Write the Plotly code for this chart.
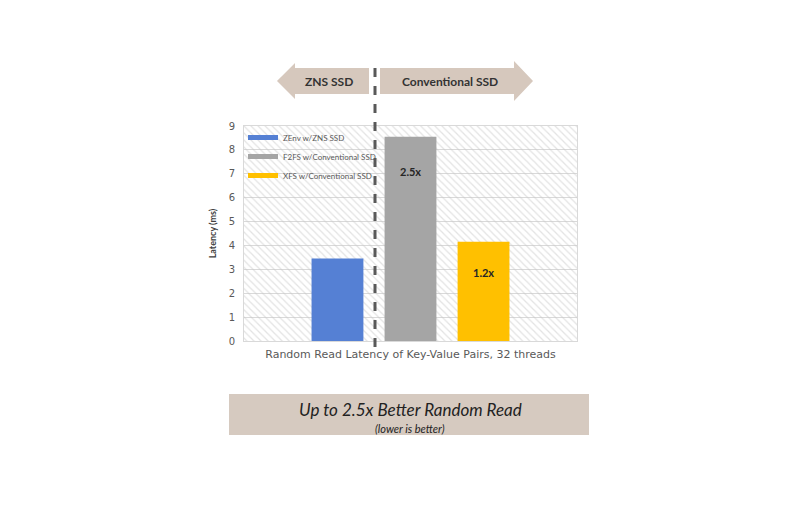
import plotly.graph_objects as go

# chart values
systems = ['ZEnv w/ZNS SSD', 'F2FS w/Conventional SSD', 'XFS w/Conventional SSD']
latency_ms = [3.45, 8.55, 4.15]
bar_colors = ['#5580d4', '#a5a5a5', '#ffc000']
speedups = ['2.5x', '1.2x']
speedup_systems = ['F2FS w/Conventional SSD', 'XFS w/Conventional SSD']
speedup_y = [7.1, 2.85]
y_ticks = [0, 1, 2, 3, 4, 5, 6, 7, 8, 9]

W, H = 799, 511
L, R, T, B = 244, 577, 126, 341   # plot area in pixels


def px(x):
    return (x - L) / (R - L)


def py(y):
    return (B - y) / (B - T)


def path(points):
    return 'M' + ' L'.join('%.4f,%.4f' % (px(a), py(b)) for a, b in points) + ' Z'


fig = go.Figure()

# hatched background of the plot area
fig.add_trace(go.Bar(x=[0.5], y=[max(y_ticks)], width=[1], xaxis='x', yaxis='y',
                     marker=dict(color='rgba(0,0,0,0)', line=dict(width=0),
                                 pattern=dict(shape='\\', fgcolor='#c8c8c8', bgcolor='rgba(0,0,0,0)',
                                              size=5, solidity=0.25)),
                     showlegend=False, hoverinfo='skip'))

for name, val, col in zip(systems, latency_ms, bar_colors):
    fig.add_trace(go.Bar(x=[name], y=[val], xaxis='x2', yaxis='y', width=0.71,
                         marker=dict(color=col, line=dict(width=0)), showlegend=False, name=name))
    # flat legend swatch
    fig.add_trace(go.Scatter(x=[None], y=[None], mode='lines', xaxis='x2', yaxis='y',
                             line=dict(color=col, width=5), name=name))

for s, t, yv in zip(speedup_systems, speedups, speedup_y):
    fig.add_annotation(x=s, y=yv, xref='x2', yref='y', text='<b>%s</b>' % t, showarrow=False,
                       font=dict(family='Lato', size=11, color='#262626'))

shapes = []
tan = '#d6c8bd'
# left arrow (ZNS SSD)
shapes.append(dict(type='path', xref='paper', yref='paper', layer='above', fillcolor=tan, line=dict(width=0),
                   path=path([(277, 81), (295, 63), (295, 68), (369, 68), (369, 94), (295, 94), (295, 99)])))
# right arrow (Conventional SSD)
shapes.append(dict(type='path', xref='paper', yref='paper', layer='above', fillcolor=tan, line=dict(width=0),
                   path=path([(380, 68), (514, 68), (514, 61), (533, 81), (514, 101), (514, 94), (380, 94)])))
# divider
shapes.append(dict(type='line', xref='paper', yref='paper', x0=px(375), x1=px(375), y0=py(68), y1=py(356),
                   line=dict(color='#595959', width=3, dash='dash'), layer='above'))
# bottom box
shapes.append(dict(type='rect', xref='paper', yref='paper', x0=px(229), x1=px(589), y0=py(394), y1=py(435),
                   fillcolor='#d6cac0', line=dict(width=0), layer='above'))


def label(x, y, text, size, color='#333333'):
    fig.add_annotation(x=px(x), y=py(y), xref='paper', yref='paper', text=text, showarrow=False,
                       xanchor='center', yanchor='middle', font=dict(family='Lato', size=size, color=color))


label(329, 81, '<b>ZNS SSD</b>', 12)
label(450, 81, '<b>Conventional SSD</b>', 12)
label(410, 409, '<i>Up to 2.5x Better Random Read</i>', 17, '#222222')
label(410, 428, '<i>(lower is better)</i>', 11, '#222222')

fig.update_layout(
    width=W, height=H,
    margin=dict(l=L, r=W - R, t=T, b=H - B, pad=0),
    paper_bgcolor='white', plot_bgcolor='white',
    barmode='overlay', shapes=shapes,
    xaxis=dict(range=[0, 1], showticklabels=False, showgrid=False, zeroline=False,
               showline=True, linecolor='#d9d9d9', mirror=True,
               title=dict(text='Random Read Latency of Key-Value Pairs, 32 threads', standoff=9,
                          font=dict(family='DejaVu Sans', size=11, color='#595959'))),
    xaxis2=dict(overlaying='x', type='category', range=[-1.28, 3.28], showticklabels=False,
                showgrid=False, zeroline=False, showline=False),
    yaxis=dict(range=[0, max(y_ticks)], tickvals=y_ticks, showgrid=True, gridcolor='#d9d9d9',
               zeroline=False, showline=True, linecolor='#d9d9d9', mirror=True, ticks='',
               ticklabelstandoff=6,
               tickfont=dict(family='DejaVu Sans', size=10, color='#595959'),
               title=dict(text='<b>Latency (ms)</b>', standoff=10,
                          font=dict(family='Lato', size=9, color='#404040'))),
    legend=dict(x=px(243), y=py(123), xanchor='left', yanchor='top', bgcolor='rgba(0,0,0,0)',
                font=dict(family='Lato', size=8, color='#595959'), tracegroupgap=0, itemwidth=30),
)

fig.write_html("out.html", config={'displayModeBar': False},
               post_script="document.body.style.margin='0';")
